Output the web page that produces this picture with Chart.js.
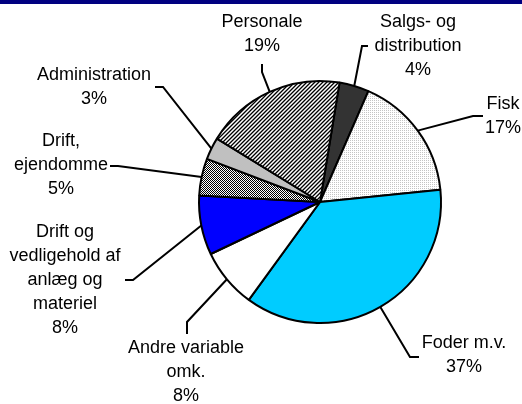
<!DOCTYPE html>
<html>
<head>
<meta charset="utf-8">
<script src="https://cdn.jsdelivr.net/npm/chart.js@4"></script>
<style>
  html, body { margin: 0; padding: 0; background: #fff; }
  #wrap { width: 522px; height: 404px; position: relative; }
</style>
</head>
<body>
<div id="wrap"><canvas id="pieChart"></canvas></div>
<script>
// kategorier (linjer pr. etiket) og andele i procent
const categories = [
  ['Salgs- og', 'distribution'],
  ['Fisk'],
  ['Foder m.v.'],
  ['Andre variable', 'omk.'],
  ['Drift og', 'vedligehold af', 'anlæg og', 'materiel'],
  ['Drift,', 'ejendomme'],
  ['Administration'],
  ['Personale'],
];
const shares = [4, 17, 37, 8, 8, 5, 3, 19];

// placering af etiketter og knæk på hjælpelinjer
const labelLayout = [
  { x: 418, y: 22, elbow: [362, 46], end: [368, 46] },
  { x: 503, y: 104, elbow: [473, 116], end: [483, 116] },
  { x: 464, y: 343, elbow: [410, 357], end: [419, 357] },
  { x: 186, y: 348, elbow: [187, 322], end: [187, 334] },
  { x: 65, y: 232, elbow: [133, 280], end: [125, 280] },
  { x: 61, y: 141, elbow: [118, 166], end: [110, 166] },
  { x: 94, y: 75, elbow: [163, 87], end: [155, 87] },
  { x: 262, y: 22, elbow: [262, 72], end: [262, 64] },
];

const canvas = document.getElementById('pieChart');
const c2d = canvas.getContext('2d');

// lille mønster-flise
function makePattern(size, paint) {
  const tile = document.createElement('canvas');
  tile.width = size;
  tile.height = size;
  const g = tile.getContext('2d');
  g.fillStyle = '#fff';
  g.fillRect(0, 0, size, size);
  for (let y = 0; y < size; y++) {
    for (let x = 0; x < size; x++) {
      const col = paint(x, y);
      if (col) {
        g.fillStyle = col;
        g.fillRect(x, y, 1, 1);
      }
    }
  }
  return c2d.createPattern(tile, 'repeat');
}

const dotted = makePattern(2, (x, y) => (x === 0 && y === 0 ? '#c4c4c4' : null));
const hatched = makePattern(4, (x, y) => {
  const d = (x + y) % 4;
  return d === 0 ? '#000' : d === 2 ? null : '#8c8c8c';
});
const checker = makePattern(2, (x, y) => ((x + y) % 2 === 0 ? '#000' : null));

const fills = ['#333333', dotted, '#00ccff', '#ffffff', '#0000ff', checker, '#c0c0c0', hatched];

const leaderLabels = {
  id: 'leaderLabels',
  beforeDraw(chart) {
    const ctx = chart.ctx;
    ctx.save();
    ctx.fillStyle = '#000080';
    ctx.fillRect(0, 0, chart.width, 4);
    ctx.restore();
  },
  afterDraw(chart) {
    const ctx = chart.ctx;
    const meta = chart.getDatasetMeta(0);
    ctx.save();
    meta.data.forEach((arc, i) => {
      const p = arc.getProps(['x', 'y', 'startAngle', 'endAngle', 'outerRadius'], true);
      const mid = (p.startAngle + p.endAngle) / 2;
      const lay = labelLayout[i];
      ctx.beginPath();
      ctx.moveTo(p.x + Math.cos(mid) * p.outerRadius, p.y + Math.sin(mid) * p.outerRadius);
      ctx.lineTo(lay.elbow[0], lay.elbow[1]);
      ctx.lineTo(lay.end[0], lay.end[1]);
      ctx.lineWidth = 2;
      ctx.strokeStyle = '#000';
      ctx.stroke();

      const lines = [...chart.data.labels[i], shares[i] + '%'];
      ctx.font = '18px "Liberation Sans", Arial, sans-serif';
      ctx.fillStyle = '#000';
      ctx.textAlign = 'center';
      ctx.textBaseline = 'middle';
      lines.forEach((t, k) => ctx.fillText(t, lay.x, lay.y + k * 24));
    });
    ctx.restore();
  },
};

new Chart(canvas, {
  type: 'pie',
  plugins: [leaderLabels],
  data: {
    labels: categories,
    datasets: [
      {
        data: shares,
        backgroundColor: fills,
        borderColor: '#000',
        borderWidth: 2,
      },
    ],
  },
  options: {
    responsive: true,
    maintainAspectRatio: false,
    animation: false,
    rotation: 9.3,
    layout: {
      padding: { top: 80, bottom: 80, left: 170, right: 52 },
    },
    plugins: {
      legend: { display: false },
      tooltip: { enabled: false },
    },
  },
});
</script>
</body>
</html>
